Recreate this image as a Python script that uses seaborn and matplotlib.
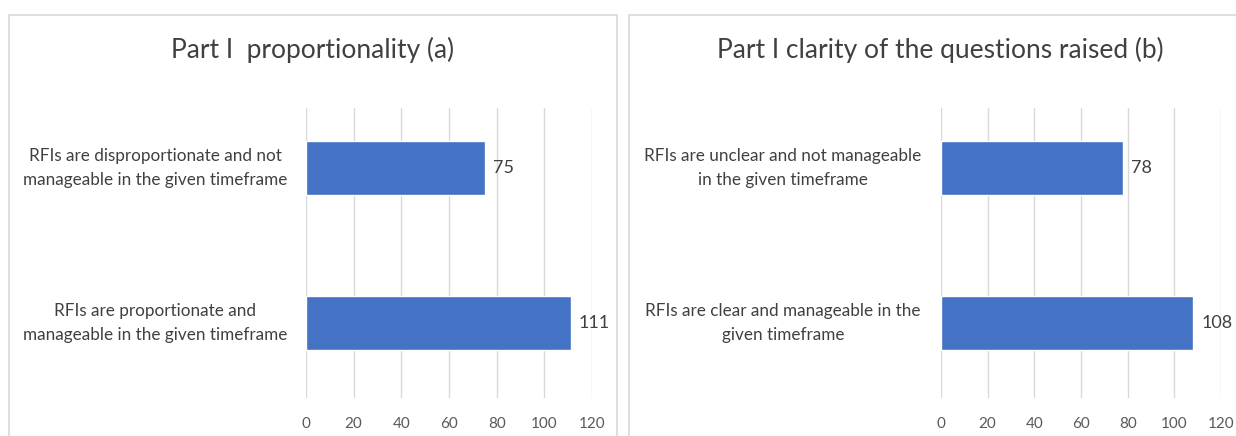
import pandas as pd
import matplotlib.pyplot as plt
import matplotlib.transforms as mtransforms
import seaborn as sns
from matplotlib.patches import Rectangle

# data for the two panels
labels_a = ['RFIs are disproportionate and not\nmanageable in the given timeframe',
            'RFIs are proportionate and\nmanageable in the given timeframe']
counts_a = [75, 111]
title_a = 'Part I  proportionality (a)'

labels_b = ['RFIs are unclear and not manageable\nin the given timeframe',
            'RFIs are clear and manageable in the\ngiven timeframe']
counts_b = [78, 108]
title_b = 'Part I clarity of the questions raised (b)'

x_ticks = [0, 20, 40, 60, 80, 100, 120]

sns.set_style('white')
plt.rcParams['font.family'] = ['Lato', 'DejaVu Sans']

fig = plt.figure(figsize=(12.36, 4.36), dpi=100)

# panel frames like the Excel chart areas
W, H = 1236, 436
fig.patches.append(Rectangle((9 / W, -0.1), 608 / W, 1.1 - 15 / H, transform=fig.transFigure,
                             fill=False, edgecolor='#d9d9d9', linewidth=1.2))
fig.patches.append(Rectangle((629 / W, -0.1), 0.6, 1.1 - 15 / H, transform=fig.transFigure,
                             fill=False, edgecolor='#d9d9d9', linewidth=1.2))

panels = [
    (labels_a, counts_a, title_a, 306, 592, 313, 155),
    (labels_b, counts_b, title_b, 941, 1221, 940, 783),
]

for labels, counts, title, x0, x1, tx, lx in panels:
    ax = fig.add_axes([x0 / W, 1 - 398 / H, (x1 - x0) / W, (398 - 108) / H])
    df = pd.DataFrame({'label': labels, 'count': counts})
    sns.barplot(data=df, x='count', y='label', orient='h', color='#4472C4',
                saturation=1, width=0.35, ax=ax)
    ax.set_xlim(0, 120)
    ax.set_ylim(1.484, -0.387)
    ax.set_xticks(x_ticks)
    ax.grid(axis='x', color='#d9d9d9', linewidth=1)
    ax.set_axisbelow(True)
    for s in ax.spines.values():
        s.set_visible(False)
    ax.set_xlabel('')
    ax.set_ylabel('')
    ax.tick_params(axis='x', length=0, pad=14, labelsize=11, labelcolor='#595959')
    ax.tick_params(axis='y', length=0, labelleft=False)
    # category labels centred in the space left of the plot
    trans = mtransforms.blended_transform_factory(fig.transFigure, ax.transData)
    for i, lab in enumerate(labels):
        ax.text(lx / W, i, lab, transform=trans, ha='center', va='center',
                multialignment='center', fontsize=12.3, linespacing=1.65, color='#404040')
    ax.bar_label(ax.containers[0], padding=6, fontsize=13, color='#404040')
    fig.text(tx / W, 1 - 50 / H, title, ha='center', va='center', fontsize=19, color='#404040')

fig.savefig('out.png', dpi=100)
